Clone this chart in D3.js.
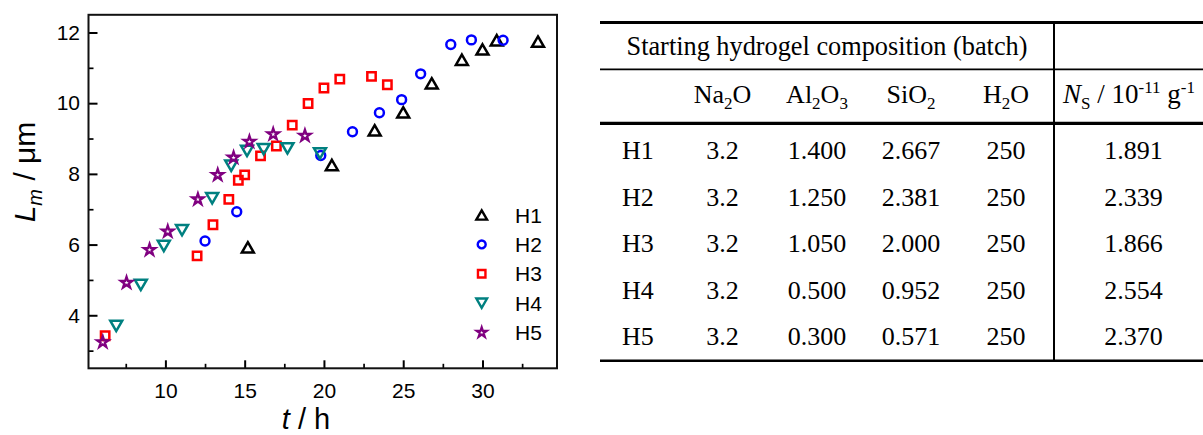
<!DOCTYPE html>
<html>
<head>
<meta charset="utf-8">
<script src="https://cdn.jsdelivr.net/npm/d3@7"></script>
<style>
  html, body { margin: 0; padding: 0; background: #fff; }
  svg { display: block; }
</style>
</head>
<body>
<div id="chart"></div>
<script>
// svg size
var width = 1203, height = 435;

// series names and colours
var series = ["H1", "H2", "H3", "H4", "H5"];
var colors = ["#000000", "#0000ff", "#ff0000", "#008080", "#800080"];

// t / h and L_m / um
var h1_t = [15.2, 20.5, 23.2, 25.0, 26.8, 28.7, 30.0, 30.9, 33.5];
var h1_L = [5.92, 8.25, 9.23, 9.74, 10.56, 11.23, 11.52, 11.78, 11.74];
var h2_t = [12.5, 14.5, 19.8, 21.8, 23.5, 24.9, 26.1, 28.0, 29.3, 31.3];
var h2_L = [6.10, 6.93, 8.52, 9.19, 9.73, 10.10, 10.83, 11.66, 11.79, 11.78];
var h3_t = [6.2, 12.0, 13.0, 14.0, 14.6, 15.0, 16.0, 17.0, 18.0, 19.0, 20.0, 21.0, 23.0, 24.0];
var h3_L = [3.42, 5.68, 6.56, 7.28, 7.82, 7.97, 8.51, 8.79, 9.38, 9.99, 10.43, 10.68, 10.76, 10.52];
var h4_t = [6.9, 8.45, 9.9, 11.05, 12.95, 14.15, 15.15, 16.2, 17.7, 19.75];
var h4_L = [3.70, 4.86, 5.96, 6.41, 7.31, 8.23, 8.65, 8.70, 8.72, 8.58];
var h5_t = [6.05, 7.55, 9.0, 10.15, 12.05, 13.3, 14.3, 15.3, 16.8, 18.8];
var h5_L = [3.24, 4.92, 5.85, 6.37, 7.28, 7.97, 8.46, 8.91, 9.12, 9.08];

// axis ticks
var xMajor = [10, 15, 20, 25, 30];
var xMinor = [7.5, 12.5, 17.5, 22.5, 27.5, 32.5];
var yMajor = [4, 6, 8, 10, 12];
var yMinor = [3, 5, 7, 9, 11];

// table contents
var tableTitle = "Starting hydrogel composition (batch)";
var batches = ["H1", "H2", "H3", "H4", "H5"];
var na2o  = ["3.2", "3.2", "3.2", "3.2", "3.2"];
var al2o3 = ["1.400", "1.250", "1.050", "0.500", "0.300"];
var sio2  = ["2.667", "2.381", "2.000", "0.952", "0.571"];
var h2o   = ["250", "250", "250", "250", "250"];
var ns    = ["1.891", "2.339", "1.866", "2.554", "2.370"];

var ts = [h1_t, h2_t, h3_t, h4_t, h5_t];
var Ls = [h1_L, h2_L, h3_L, h4_L, h5_L];

var svg = d3.select("#chart")
    .append("svg")
    .attr("width", width)
    .attr("height", height);

svg.append("rect").attr("width", width).attr("height", height).attr("fill", "#fff");

// ---------------------------------------------------------------- plot
var plot = {left: 88.5, right: 557, top: 14.8, bottom: 368.3};

var x = d3.scaleLinear().domain([5.15, 34.7]).range([plot.left, plot.right]);
var y = d3.scaleLinear().domain([2.5, 12.5]).range([plot.bottom, plot.top]);

var sans = "'Liberation Sans', Arial, Helvetica, sans-serif";
var serif = "'Liberation Serif', 'Times New Roman', Times, serif";

// d3.axis writes its own font attrs, so set ours after the call
function styleAxis(g, w){
    g.select(".domain").remove();
    g.attr("font-family", sans).attr("font-size", 21);
    g.selectAll(".tick line").attr("stroke", "#000").attr("stroke-width", w);
    g.selectAll(".tick text").attr("fill", "#000");
}

// bottom axis
svg.append("g")
    .attr("transform", "translate(0," + plot.bottom + ")")
    .call(d3.axisBottom(x).tickValues(xMajor).tickSize(-8).tickSizeOuter(0).tickPadding(15))
    .call(styleAxis, 2);

svg.append("g")
    .attr("transform", "translate(0," + plot.bottom + ")")
    .call(d3.axisBottom(x).tickValues(xMinor).tickSize(-4.5).tickSizeOuter(0).tickFormat(""))
    .call(styleAxis, 1.7);

// left axis
svg.append("g")
    .attr("transform", "translate(" + plot.left + ",0)")
    .call(d3.axisLeft(y).tickValues(yMajor).tickSize(-9).tickSizeOuter(0).tickPadding(8.5))
    .call(styleAxis, 2);

svg.append("g")
    .attr("transform", "translate(" + plot.left + ",0)")
    .call(d3.axisLeft(y).tickValues(yMinor).tickSize(-5).tickSizeOuter(0).tickFormat(""))
    .call(styleAxis, 1.7);

// frame
svg.append("rect")
    .attr("x", plot.left).attr("y", plot.top)
    .attr("width", plot.right - plot.left)
    .attr("height", plot.bottom - plot.top)
    .attr("fill", "none")
    .attr("stroke", "#111")
    .attr("stroke-width", 2);

// symbols
var symTypes = [d3.symbolTriangle, d3.symbolCircle, d3.symbolSquare, d3.symbolTriangle, d3.symbolStar];
var symSizes = [62, 62, 70, 62, 40];
var symStroke = [2.5, 2.5, 2.5, 2.5, 2.3];

function triOffset(size){
    return Math.sqrt(size / (3 * Math.sqrt(3))) / 2;
}

function symbolTransform(i, px, py, size){
    if (i == 0)
        return "translate(" + px + "," + (py + triOffset(size)) + ")";
    else if (i == 3)
        return "translate(" + px + "," + (py - triOffset(size)) + ") rotate(180)";
    else
        return "translate(" + px + "," + py + ")";
}

var points = svg.append("g").attr("class", "points");

series.forEach(function(name, i){
    var data = ts[i].map(function(t, j){ return {t: t, L: Ls[i][j]}; });
    points.append("g")
        .attr("class", "series-" + name)
        .selectAll("path")
        .data(data)
        .enter()
            .append("path")
            .attr("d", d3.symbol().type(symTypes[i]).size(symSizes[i]))
            .attr("transform", function(d){ return symbolTransform(i, x(d.t), y(d.L), symSizes[i]); })
            .attr("fill", "none")
            .attr("stroke", colors[i])
            .attr("stroke-width", symStroke[i])
            .attr("stroke-linejoin", "miter");
});

// legend
var legend = svg.append("g").attr("class", "legend");
series.forEach(function(name, i){
    var ly = 215 + i * 29.4;
    var s = symSizes[i] * 0.8;
    legend.append("path")
        .attr("d", d3.symbol().type(symTypes[i]).size(s))
        .attr("transform", symbolTransform(i, 481.7, ly, s))
        .attr("fill", "none")
        .attr("stroke", colors[i])
        .attr("stroke-width", symStroke[i] - 0.1);
    legend.append("text")
        .attr("x", 515).attr("y", ly + 7.5)
        .attr("font-family", sans).attr("font-size", 21)
        .attr("fill", "#000")
        .text(name);
});

// axis titles
svg.append("text")
    .attr("x", 306).attr("y", 429)
    .attr("text-anchor", "middle")
    .attr("font-family", sans).attr("font-size", 29)
    .call(function(t){
        t.append("tspan").attr("font-style", "italic").text("t");
        t.append("tspan").text(" / h");
    });

svg.append("text")
    .attr("transform", "translate(35,172) rotate(-90)")
    .attr("text-anchor", "middle")
    .attr("font-family", sans).attr("font-size", 30)
    .call(function(t){
        t.append("tspan").attr("font-style", "italic").text("L");
        t.append("tspan").attr("font-style", "italic").attr("font-size", 20).attr("dy", 7).text("m");
        t.append("tspan").attr("dy", -7).text(" / \u03bcm");
    });

// ---------------------------------------------------------------- table
var tbl = svg.append("g").attr("class", "table")
    .attr("font-family", serif).attr("font-size", 26).attr("fill", "#000");

var tLeft = 600, tRight = width, tSplit = 1054;
var colX = [622, 722.5, 817, 911, 1006, 1133.5];
var rowY = [159.3, 205.8, 252.2, 298.6, 345];

function hline(y0, w){
    tbl.append("line")
        .attr("x1", tLeft).attr("x2", tRight)
        .attr("y1", y0).attr("y2", y0)
        .attr("stroke", "#000").attr("stroke-width", w);
}
hline(22.5, 3);
hline(69.3, 1.8);
hline(123.3, 3.2);
hline(360.8, 2.4);

tbl.append("line")
    .attr("x1", tSplit).attr("x2", tSplit)
    .attr("y1", 22.5).attr("y2", 360.8)
    .attr("stroke", "#000").attr("stroke-width", 2);

tbl.append("text")
    .attr("x", (tLeft + tSplit) / 2).attr("y", 55)
    .attr("text-anchor", "middle")
    .attr("font-size", 26.3)
    .text(tableTitle);

// header cells: [text, shift] pieces, shift > 0 = subscript, < 0 = superscript
var headers = [
    [["Na", 0], ["2", 1], ["O", 0]],
    [["Al", 0], ["2", 1], ["O", 0], ["3", 1]],
    [["Si", 0], ["O", 0], ["2", 1]],
    [["H", 0], ["2", 1], ["O", 0]]
];

function richText(sel, parts){
    var cur = 0;
    parts.forEach(function(p){
        var ts = sel.append("tspan").text(p[0]);
        var target = p[1] > 0 ? 6 : (p[1] < 0 ? -10 : 0);
        if (target != cur) ts.attr("dy", target - cur);
        cur = target;
        if (p[1] != 0) ts.attr("font-size", 17);
        if (p[2]) ts.attr("font-style", "italic");
    });
}

headers.forEach(function(h, i){
    tbl.append("text")
        .attr("x", colX[i + 1]).attr("y", 102.7)
        .attr("text-anchor", "middle")
        .call(richText, h);
});

tbl.append("text")
    .attr("x", 1063).attr("y", 102.7)
    .attr("font-size", 27)
    .call(richText, [["N", 0, true], ["S", 1], [" / 10", 0], ["-11", -1], [" g", 0], ["-1", -1]]);

var cols = [batches, na2o, al2o3, sio2, h2o, ns];
cols.forEach(function(col, c){
    tbl.selectAll("text.c" + c)
        .data(col)
        .enter()
            .append("text")
            .attr("class", "c" + c)
            .attr("x", colX[c])
            .attr("y", function(d, r){ return rowY[r]; })
            .attr("text-anchor", c == 0 ? "start" : "middle")
            .text(function(d){ return d; });
});
</script>
</body>
</html>
